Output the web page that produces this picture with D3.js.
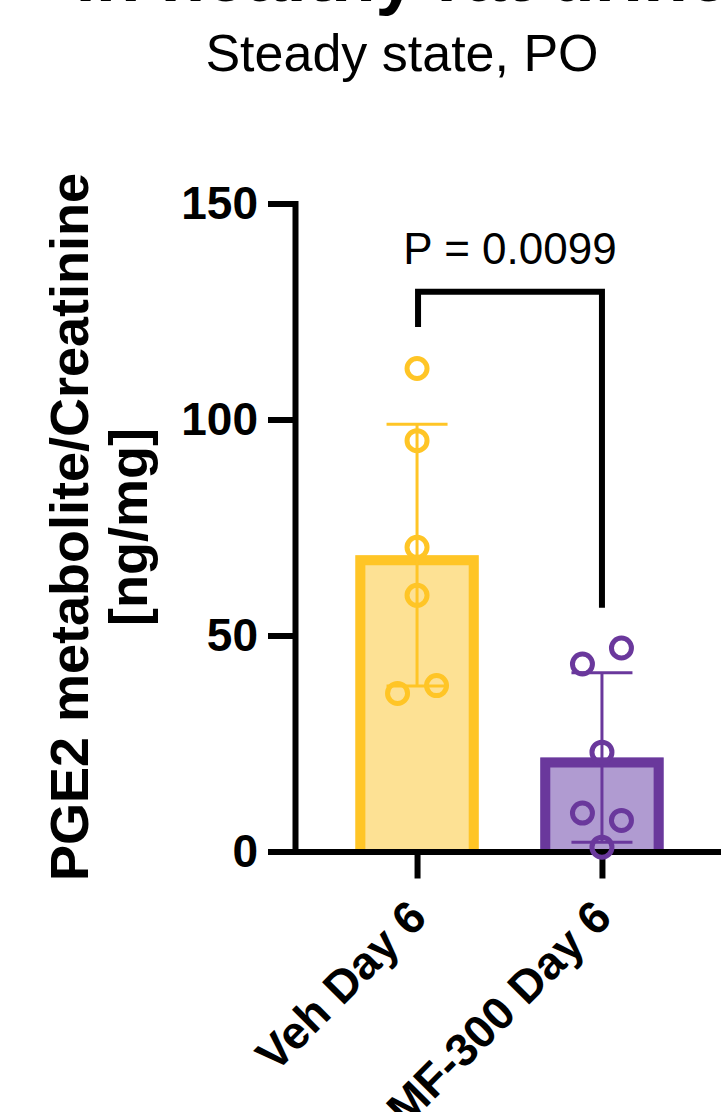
<!DOCTYPE html>
<html>
<head>
<meta charset="utf-8">
<script src="https://cdn.jsdelivr.net/npm/d3@7"></script>
<style>
  body { margin: 0; background: #fff; }
  svg { display: block; font-family: "Liberation Sans", Arial, sans-serif; }
</style>
</head>
<body>
<svg id="chart" width="721" height="1112"></svg>
<script>
// groups and the individual animal values
const groups = ["Veh Day 6", "MF-300 Day 6"];
const vehValues = [111.8, 95.1, 70.4, 59.3, 36.6, 38.4];
const mfValues = [43.4, 47.1, 23.0, 8.9, 7.2, 1.0];
const yTicks = [0, 50, 100, 150];
const strokeColors = ["#FFC526", "#6A389C"];
const fillColors = ["#FDE194", "#B09BD1"];
const titleText = "in healthy rat urine";
const subtitleText = "Steady state, PO";
const yTitleLines = ["PGE2 metabolite/Creatinine", "[ng/mg]"];
const pText = "P = 0.0099";
const bracketTop = 129.6, bracketLegs = [121.4, 56.4];

const data = groups.map((g, i) => {
  const vals = [vehValues, mfValues][i];
  return { name: g, values: vals, mean: d3.mean(vals), sd: d3.deviation(vals),
           stroke: strokeColors[i], fill: fillColors[i] };
});

const svg = d3.select("#chart");
const font = '"Liberation Sans", Arial, sans-serif';

const x = d3.scalePoint().domain(groups).range([295, 724]).padding(0.66);
const y = d3.scaleLinear().domain([0, 150]).range([851.5, 203.5]);
const barW = x.step() * 0.667;
const bw = 10;

// titles
svg.append("text").attr("x", 402).attr("y", 1)
  .attr("text-anchor", "middle").attr("font-weight", "bold")
  .attr("font-size", 73).text(titleText);
svg.append("text").attr("x", 402).attr("y", 71)
  .attr("text-anchor", "middle").attr("font-size", 52).text(subtitleText);

// bars (border inside, open at the bottom)
const bars = svg.append("g");
bars.selectAll("rect").data(data).join("rect")
  .attr("x", d => x(d.name) - barW / 2)
  .attr("y", d => y(d.mean))
  .attr("width", barW)
  .attr("height", d => y(0) - y(d.mean))
  .attr("fill", d => d.fill);
bars.selectAll("path").data(data).join("path")
  .attr("fill", "none")
  .attr("stroke", d => d.stroke)
  .attr("stroke-width", bw)
  .attr("d", d => {
    const x0 = x(d.name) - barW / 2 + bw / 2, x1 = x(d.name) + barW / 2 - bw / 2;
    const t = y(d.mean) + bw / 2;
    return `M${x0},${y(0)}V${t}H${x1}V${y(0)}`;
  });

// axes
const yAxis = svg.append("g").attr("transform", "translate(295,0)")
  .call(d3.axisLeft(y).tickValues(yTicks).tickSize(27).tickSizeOuter(0).tickPadding(10));
yAxis.select(".domain").attr("stroke-width", 6).attr("stroke-linecap", "square");
yAxis.selectAll(".tick line").attr("stroke-width", 6);
yAxis.selectAll("text").attr("font-size", 46).attr("font-weight", "bold")
  .attr("font-family", font).attr("fill", "#000");

const xAxis = svg.append("g").attr("transform", `translate(0,${y(0)})`)
  .call(d3.axisBottom(x).tickSize(27).tickSizeOuter(0));
xAxis.select(".domain").attr("stroke-width", 6);
xAxis.selectAll(".tick line").attr("stroke-width", 6);
xAxis.selectAll("text")
  .attr("x", 0).attr("y", 0).attr("dy", "0.35em")
  .attr("transform", "translate(0,57) rotate(-45)")
  .attr("text-anchor", "end")
  .attr("font-size", 46).attr("font-weight", "bold")
  .attr("font-family", font).attr("fill", "#000");

// y axis title
const yt = svg.append("text")
  .attr("transform", `translate(0,${(y(0) + y(150)) / 2 - 0.5}) rotate(-90)`)
  .attr("text-anchor", "middle").attr("font-weight", "bold").attr("font-size", 54);
yt.selectAll("tspan").data(yTitleLines).join("tspan")
  .attr("x", 0).attr("y", (d, i) => 88 + i * 59).text(d => d);

// error bars: mean +/- SD
const eb = svg.append("g").selectAll("g").data(data).join("g")
  .attr("stroke", d => d.stroke).attr("stroke-width", 3);
eb.append("line")
  .attr("x1", d => x(d.name)).attr("x2", d => x(d.name))
  .attr("y1", d => y(d.mean - d.sd)).attr("y2", d => y(d.mean + d.sd));
eb.selectAll("line.cap").data(d => [d.mean - d.sd, d.mean + d.sd].map(v => ({ v, d })))
  .join("line").attr("class", "cap")
  .attr("x1", o => x(o.d.name) - 30.5).attr("x2", o => x(o.d.name) + 30.5)
  .attr("y1", o => y(o.v)).attr("y2", o => y(o.v));

// scatter points, overlapping ones spread side by side
const r = 10, spread = 39;
function placePoints(d) {
  const sorted = d.values.map((v, i) => ({ v, i })).sort((a, b) => a.v - b.v);
  const rows = [];
  sorted.forEach(p => {
    const last = rows[rows.length - 1];
    if (last && Math.abs(y(p.v) - y(last[0].v)) < 24) last.push(p);
    else rows.push([p]);
  });
  const out = [];
  rows.forEach(row => {
    row.sort((a, b) => a.i - b.i);
    row.forEach((p, k) => out.push({
      cx: x(d.name) + (k - (row.length - 1) / 2) * spread,
      cy: y(p.v), stroke: d.stroke
    }));
  });
  return out;
}
svg.append("g").selectAll("circle").data(data.flatMap(placePoints)).join("circle")
  .attr("cx", p => p.cx).attr("cy", p => p.cy).attr("r", r)
  .attr("fill", "none").attr("stroke", p => p.stroke).attr("stroke-width", 5);

// significance bracket
const xa = x(groups[0]) + 1, xb = x(groups[1]);
svg.append("path")
  .attr("fill", "none").attr("stroke", "#000").attr("stroke-width", 6)
  .attr("d", `M${xa},${y(bracketLegs[0])}V${y(bracketTop)}H${xb}V${y(bracketLegs[1])}`);
svg.append("text").attr("x", (xa + xb) / 2).attr("y", 264)
  .attr("text-anchor", "middle").attr("font-size", 44).text(pText);
</script>
</body>
</html>
